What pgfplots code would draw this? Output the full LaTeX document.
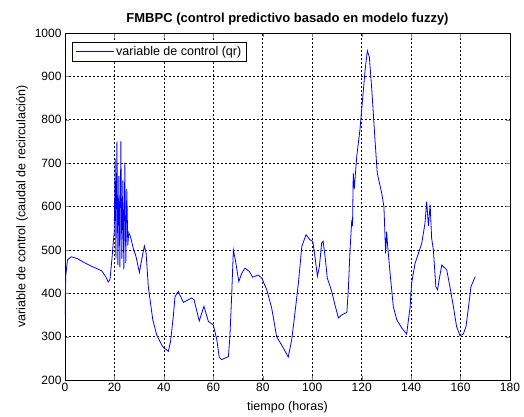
\documentclass[border=0pt]{standalone}
\usepackage{fontspec}
\setmainfont{Liberation Sans}
\usepackage{pgfplots}
\pgfplotsset{compat=1.18}
\definecolor{mblue}{RGB}{0,0,255}
\begin{document}
\begin{tikzpicture}
\path[use as bounding box] (-65pt,-37pt) rectangle (459pt,380pt);
\begin{axis}[
  scale only axis,
  width=445pt, height=347pt,
  xmin=0, xmax=180, ymin=200, ymax=1000,
  xtick={0,20,...,180}, ytick={200,300,...,1000},
  /pgf/number format/assume math mode=true,
  /pgf/number format/set thousands separator={},
  tick label style={font=\fontsize{12}{14}\selectfont},
  label style={font=\fontsize{12.5}{15}\selectfont},
  xlabel style={yshift=-3pt},
  title style={font=\fontsize{13}{15}\selectfont\bfseries, yshift=-2pt},
  title={FMBPC (control predictivo basado en modelo fuzzy)},
  xlabel={tiempo (horas)},
  ylabel={variable de control (caudal de recirculación)},
  tick align=inside,
  major tick length=4pt,
  grid=major,
  major grid style={black, line width=0.6pt, dash pattern=on 2pt off 2pt},
  axis line style={black, line width=0.6pt},
  legend style={at={(0.016,0.974)}, anchor=north west, draw=black, line width=0.6pt,
    font=\fontsize{12.5}{15}\selectfont, inner xsep=3pt, inner ysep=2pt},
  legend cell align=left,
  legend image code/.code={\draw[mblue, line width=0.8pt] (0pt,0pt) -- (38pt,0pt);},
]
\addplot[mblue, line width=0.8pt] coordinates {
(0,350) (0.3,440) (1,477) (2.5,484) (5,480) (8,470) (10.8,462) (14.8,452) (16.5,438)
(17.5,426) (18.2,432) (19,480) (19.5,516) (19.9,540) (20.3,710) (20.6,480) (21.0,750)
(21.4,465) (21.8,670) (22.2,460) (22.6,750) (23.0,480) (23.4,660) (23.8,455) (24.2,700)
(24.6,470) (25.0,640) (25.4,510) (25.8,540) (26.5,530) (27.6,504) (28.7,485) (30.1,448)
(31,477) (32.1,509) (32.8,493) (33.7,415) (34.4,385) (35.5,339) (37.1,304) (39.1,281)
(39.8,275) (41.8,266) (42.7,289) (43.8,346) (44.5,392) (45.8,404) (47.9,379) (51.2,389)
(52.2,385) (54.3,336) (56.2,370) (58,335) (60,327) (61.4,293) (62.4,252) (63.4,247)
(66.1,254) (66.7,300) (67.4,392) (68.1,500) (68.9,477) (70.3,427) (71.5,446) (72.8,458)
(74.6,450) (75.9,437) (78.2,442) (79.6,435) (81.6,408) (83.6,366) (85.6,300) (88.3,274)
(90.3,253) (91.7,293) (93,354) (94.4,423) (95.8,508) (97.5,535) (99.1,523) (100.2,520)
(101.1,485) (102.1,439) (102.9,462) (103.8,515) (104.4,520) (105.2,485) (106.1,435)
(107.9,404) (109.2,373) (110.6,343) (111.9,350) (114,356) (114.6,408) (115.3,500)
(116,569) (116.3,555) (116.6,677) (117,640) (118,715) (119.3,777) (120,823) (121.4,915)
(122.3,959) (123.1,945) (124.1,869) (125.4,753) (126.3,677) (128.1,631) (129,600)
(129.7,492) (130.1,542) (130.5,510) (131.5,446) (132.8,369) (134.2,339) (136.2,320)
(138.2,306) (139.6,369) (140.2,423) (141.6,469) (144.3,515) (145.6,561) (146.3,611)
(147,555) (147.7,604) (148.3,527) (149,500) (150,415) (150.7,408) (151.3,430) (152.4,465)
(154.4,454) (155.7,415) (157.1,369) (158.4,323) (159.8,302) (161.1,306) (162.2,323)
(163.4,377) (164.2,415) (165.9,438)
};
\addlegendentry{variable de control (qr)}
\end{axis}
\end{tikzpicture}
\end{document}
